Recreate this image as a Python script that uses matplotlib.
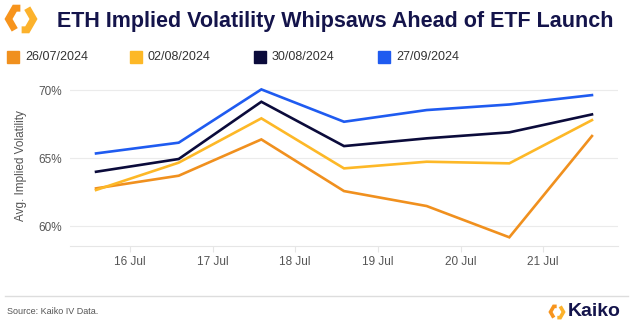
import matplotlib.pyplot as plt
import matplotlib.patches as mpatches
from matplotlib.lines import Line2D
import numpy as np

plt.rcParams['font.family'] = ['Liberation Sans', 'DejaVu Sans']

# Average implied volatility (%) per snapshot date
series_names = ['26/07/2024', '02/08/2024', '30/08/2024', '27/09/2024']
iv_2607 = [62.77, 63.70, 66.37, 62.57, 61.47, 59.17, 66.62]
iv_0208 = [62.65, 64.66, 67.92, 64.24, 64.73, 64.61, 67.79]
iv_3008 = [63.99, 64.93, 69.14, 65.88, 66.45, 66.89, 68.21]
iv_2709 = [65.34, 66.13, 70.05, 67.67, 68.53, 68.94, 69.63]
day_labels = ['16 Jul', '17 Jul', '18 Jul', '19 Jul', '20 Jul', '21 Jul']

colors = ['#F0901E', '#FDB827', '#0B0B3B', '#1F5BF0']
navy = '#14144B'
grey = '#555555'

W, H = 633, 328
fig = plt.figure(figsize=(W / 100, H / 100), dpi=100)
ax = fig.add_axes([70 / W, 82 / H, 548 / W, 160 / H])

x = np.arange(len(iv_2607))
for vals, c in zip([iv_2607, iv_0208, iv_3008, iv_2709], colors):
    ax.plot(x, vals, color=c, lw=1.9, solid_joinstyle='miter', zorder=3)

ax.set_xlim(-0.315, 6.315)
ax.set_ylim(58.53, 70.3)
ax.set_yticks([60, 65, 70])
ax.set_yticklabels(['60%', '65%', '70%'])
ax.set_xticks(np.arange(len(day_labels)) + 0.41)
ax.set_xticklabels(day_labels)
ax.grid(axis='y', color='#EBEBEB', lw=0.8, zorder=0)
for s in ['top', 'right', 'left']:
    ax.spines[s].set_visible(False)
ax.spines['bottom'].set_color('#E6E6E6')
ax.tick_params(axis='y', length=0, pad=6, labelsize=8.5, labelcolor=grey)
ax.tick_params(axis='x', length=4, color='#E6E6E6', pad=3, labelsize=8.5,
               labelcolor=grey)
ax.set_ylabel('Avg. Implied Volatility', fontsize=8.5, color=grey, labelpad=8)

# title
fig.text(57 / W, 1 - 21 / H, 'ETH Implied Volatility Whipsaws Ahead of ETF Launch',
         fontsize=15.5, fontweight='bold', color=navy, va='center', ha='left')


def logo(cx, cy, r, lw):
    # hexagon ring in pixels, cut into two pieces with gaps on top and bottom
    ang = np.radians([0, 60, 120, 180, 240, 300])
    v = np.c_[cx + r * np.cos(ang), cy - r * np.sin(ang)]
    top = v[2] + 0.45 * (v[1] - v[2])
    bot = v[5] + 0.45 * (v[4] - v[5])
    pieces = [
        ([top, v[2], v[3], v[4]], '#F7941D'),
        ([bot, v[5], v[0], v[1]], '#FCB22C'),
    ]
    for pts, c in pieces:
        pts = np.array(pts)
        fig.add_artist(Line2D(pts[:, 0] / W, 1 - pts[:, 1] / H, color=c, lw=lw,
                              solid_joinstyle='miter', solid_capstyle='butt',
                              transform=fig.transFigure))


logo(21, 19, 12.5, 5)

# legend
leg_x = [7, 130, 254, 378]
for lx, name, c in zip(leg_x, series_names, colors):
    fig.add_artist(mpatches.Rectangle((lx / W, 1 - 63 / H), 12 / W, 12 / H,
                                      color=c, transform=fig.transFigure))
    fig.text((lx + 18) / W, 1 - 57 / H, name, fontsize=9, color='#333333',
             va='center', ha='left')

# footer
fig.add_artist(Line2D([5 / W, 628 / W], [1 - 296 / H] * 2, color='#DDDDDD',
                      lw=1, transform=fig.transFigure))
fig.text(7 / W, 1 - 312 / H, 'Source: Kaiko IV Data.', fontsize=6.5,
         color=grey, va='center', ha='left')
logo(557, 312, 6.5, 2.6)
fig.text(568 / W, 1 - 312 / H, 'Kaiko', fontsize=14, fontweight='bold',
         color=navy, va='center', ha='left')

fig.savefig('out.png', dpi=100, facecolor='white')
